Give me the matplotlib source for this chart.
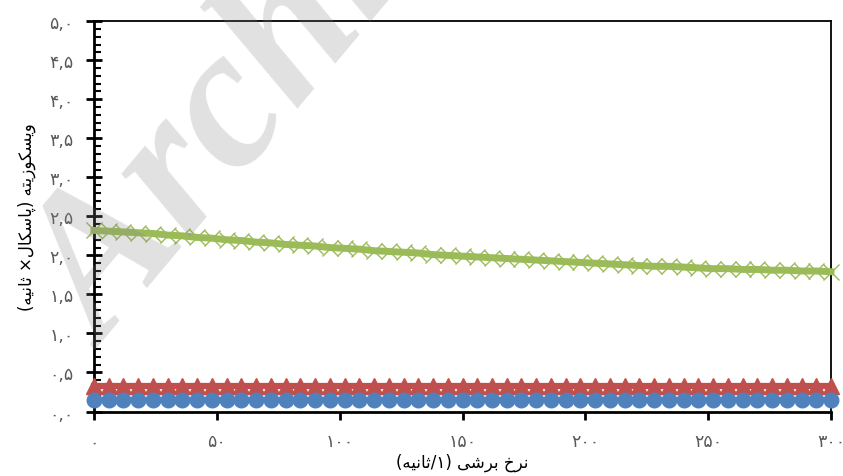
import matplotlib.pyplot as plt
from matplotlib.ticker import MultipleLocator

# shear rate (1/s) and viscosity (Pa.s)
shear_rate = [0, 6, 12, 18, 24, 30, 36, 42, 48, 54, 60, 66, 72, 78, 84, 90, 96,
              102, 108, 114, 120, 126, 132, 138, 144, 150, 156, 162, 168, 174,
              180, 186, 192, 198, 204, 210, 216, 222, 228, 234, 240, 246, 252,
              258, 264, 270, 276, 282, 288, 294, 300]

blue_visc = [0.15, 0.15, 0.15, 0.15, 0.15, 0.15, 0.15, 0.15, 0.15, 0.15, 0.15,
             0.15, 0.15, 0.15, 0.15, 0.15, 0.15, 0.15, 0.15, 0.15, 0.15, 0.15,
             0.15, 0.15, 0.15, 0.15, 0.15, 0.15, 0.15, 0.15, 0.15, 0.15, 0.15,
             0.15, 0.15, 0.15, 0.15, 0.15, 0.15, 0.15, 0.15, 0.15, 0.15, 0.15,
             0.15, 0.15, 0.15, 0.15, 0.15, 0.15, 0.15]

red_visc = [0.33, 0.33, 0.33, 0.33, 0.33, 0.33, 0.33, 0.33, 0.33, 0.33, 0.33,
            0.33, 0.33, 0.33, 0.33, 0.33, 0.33, 0.33, 0.33, 0.33, 0.33, 0.33,
            0.33, 0.33, 0.33, 0.33, 0.33, 0.33, 0.33, 0.33, 0.33, 0.33, 0.33,
            0.33, 0.33, 0.33, 0.33, 0.33, 0.33, 0.33, 0.33, 0.33, 0.33, 0.33,
            0.33, 0.33, 0.33, 0.33, 0.33, 0.33, 0.33]

green_visc = [2.32, 2.31, 2.30, 2.29, 2.28, 2.26, 2.25, 2.23, 2.22, 2.20, 2.19,
              2.17, 2.16, 2.14, 2.13, 2.12, 2.10, 2.09, 2.08, 2.06, 2.05, 2.04,
              2.03, 2.01, 2.00, 1.99, 1.98, 1.97, 1.96, 1.95, 1.94, 1.93, 1.92,
              1.91, 1.90, 1.89, 1.88, 1.87, 1.86, 1.86, 1.85, 1.84, 1.83, 1.83,
              1.82, 1.82, 1.81, 1.81, 1.80, 1.80, 1.79]

x_ticks = [0, 50, 100, 150, 200, 250, 300]
x_tick_labels = ['۰', '۵۰', '۱۰۰', '۱۵۰', '۲۰۰', '۲۵۰', '۳۰۰']
y_ticks = [0, 0.5, 1.0, 1.5, 2.0, 2.5, 3.0, 3.5, 4.0, 4.5, 5.0]
y_tick_labels = ['۰,۰', '۰,۵', '۱,۰', '۱,۵', '۲,۰', '۲,۵', '۳,۰', '۳,۵', '۴,۰', '۴,۵', '۵,۰']

# Persian labels written in visual order with presentation forms (no shaping in matplotlib)
# "نرخ برشی (۱/ثانیه)"
x_label = ('(\uFEEA\uFBFF\uFEE7\uFE8E\uFE9B/۱) '
           '\uFBFD\uFEB7\uFEAE\uFE91 '
           '\uFEA5\uFEAE\uFEE7')
# "ویسکوزیته (پاسکال× ثانیه)"
y_label = ('(\uFEEA\uFBFF\uFEE7\uFE8E\uFE9B ×'
           '\uFEDD\uFE8E\uFB91\uFEB3\uFE8E\uFB58) '
           '\uFEEA\uFE98\uFBFE\uFEAF\uFEEE\uFB91\uFEB4\uFBFE\uFEED')

fig = plt.figure(figsize=(8.43, 4.77), dpi=100)
ax = fig.add_axes([0.1115, 0.1352, 0.8743, 0.8183])

ax.plot(shear_rate, green_visc, color='#9BBB59', lw=5, marker='x', ms=11,
        mew=1.0, clip_on=False, zorder=3)
ax.plot(shear_rate, red_visc, color='#C0504D', lw=4.5, marker='^', ms=11,
        clip_on=False, zorder=4)
ax.plot(shear_rate, blue_visc, color='#4F81BD', lw=4, marker='o', ms=10.5,
        clip_on=False, zorder=5)

ax.set_xlim(0, 300)
ax.set_ylim(0, 5)
ax.set_xticks(x_ticks)
ax.set_xticklabels(x_tick_labels)
ax.set_yticks(y_ticks)
ax.set_yticklabels(y_tick_labels)
ax.yaxis.set_minor_locator(MultipleLocator(0.1))

for side in ['top', 'right']:
    ax.spines[side].set_linewidth(1.3)
for side in ['left', 'bottom']:
    ax.spines[side].set_linewidth(2)

ax.tick_params(axis='y', which='major', direction='inout', length=11, width=2,
               pad=9, labelsize=12.5, labelcolor='#595959')
ax.tick_params(axis='y', which='minor', direction='in', length=5, width=1.5)
ax.tick_params(axis='x', which='major', direction='out', length=6, width=2,
               pad=9, labelsize=12.5, labelcolor='#595959')

ax.set_xlabel(x_label, fontsize=12, labelpad=2)
ax.set_ylabel(y_label, fontsize=12, labelpad=10)

# watermark
fig.text(0.125, 0.265, 'Archive of SID', fontsize=145, family='Liberation Serif',
         weight='bold', style='italic', color='#808080', alpha=0.24,
         rotation=50, rotation_mode='anchor', zorder=10)

fig.savefig('out.png', dpi=100)
